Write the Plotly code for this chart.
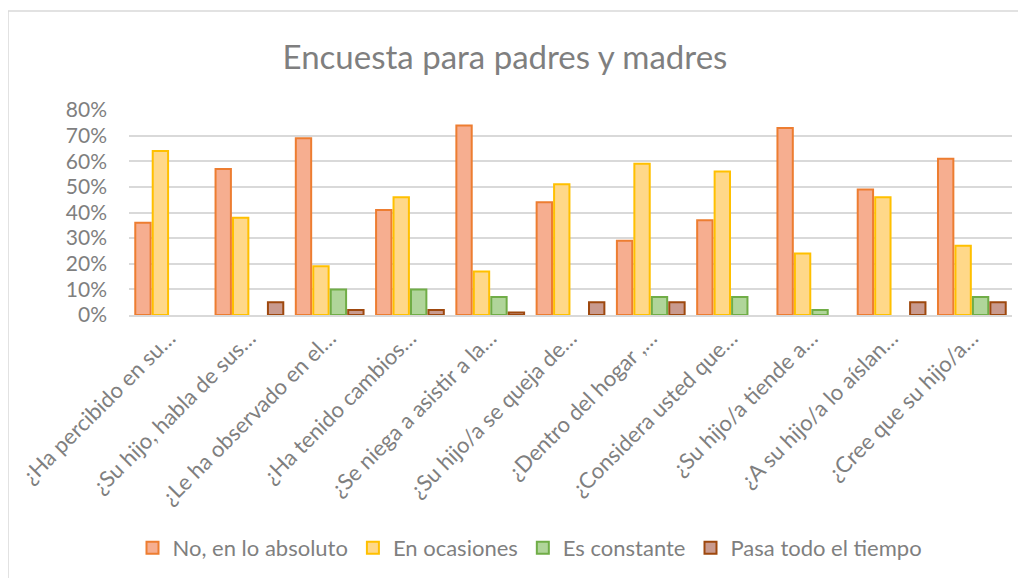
import plotly.graph_objects as go

categories = [
    "¿Ha percibido en su…",
    "¿Su hijo, habla de sus…",
    "¿Le ha observado en el…",
    "¿Ha tenido cambios…",
    "¿Se niega a asistir a la…",
    "¿Su hijo/a se queja de…",
    "¿Dentro del hogar ,…",
    "¿Considera usted que…",
    "¿Su hijo/a tiende a…",
    "¿A su hijo/a lo aíslan…",
    "¿Cree que su hijo/a…",
]
no_en_absoluto = [0.36, 0.57, 0.69, 0.41, 0.74, 0.44, 0.29, 0.37, 0.73, 0.49, 0.61]
en_ocasiones = [0.64, 0.38, 0.19, 0.46, 0.17, 0.51, 0.59, 0.56, 0.24, 0.46, 0.27]
es_constante = [0.00, 0.00, 0.10, 0.10, 0.07, 0.00, 0.07, 0.07, 0.02, 0.00, 0.07]
pasa_todo = [0.00, 0.05, 0.02, 0.02, 0.01, 0.05, 0.05, 0.00, 0.00, 0.05, 0.05]

series = [
    ("No, en lo absoluto", no_en_absoluto, "#F6AE90", "#ED7D31"),
    ("En ocasiones", en_ocasiones, "#FFD889", "#FFC000"),
    ("Es constante", es_constante, "#B0D59A", "#70AD47"),
    ("Pasa todo el tiempo", pasa_todo, "#C99A8E", "#9E480E"),
]

FONT = "Lato"
GRAY = "#7F7F7F"

# page body has an 8px default margin; layout numbers below are figure coordinates
L, R, T, B = 121, 22, 102, 271
PW = 1026 - L - R
PH = 578 - T - B

fig = go.Figure()
for name, vals, fill, edge in series:
    fig.add_trace(go.Bar(
        name=name, x=categories,
        y=[v if v > 0 else None for v in vals],  # zero values draw no bar
        marker=dict(color=fill, line=dict(color=edge, width=2)),
    ))

fig.update_layout(
    width=1026, height=578,
    margin=dict(l=L, r=R, t=T, b=B, autoexpand=False),
    paper_bgcolor="white", plot_bgcolor="white",
    barmode="group", bargap=0.13, bargroupgap=0.12,
    title=dict(text="Encuesta para padres y madres", x=497 / 1026, xref="container",
               xanchor="center", y=1 - 49 / 578, yref="container", yanchor="middle",
               font=dict(family=FONT, size=33, color=GRAY)),
    font=dict(family=FONT, color=GRAY),
    legend=dict(orientation="h", x=(522 - L) / PW, xanchor="center",
                y=(T + PH - 540) / PH, yanchor="middle",
                font=dict(family=FONT, size=22, color=GRAY), traceorder="normal",
                itemwidth=30),
    showlegend=True,
)
fig.update_yaxes(range=[0, 0.8], dtick=0.1, tickformat=".0%", automargin=False,
                 showgrid=True, gridcolor="#D9D9D9", gridwidth=1.5,
                 zeroline=False, showline=False,
                 tickfont=dict(family=FONT, size=21, color=GRAY), ticks="",
                 ticklabelstandoff=21)
fig.update_xaxes(tickangle=-45, tickfont=dict(family=FONT, size=22, color=GRAY),
                 automargin=False,
                 showline=True, linecolor="#D9D9D9", linewidth=1.5, ticks="",
                 showgrid=False)

fig.add_shape(type="rect", xref="paper", yref="paper",
              x0=(0 - L) / PW, x1=(1040 - L) / PW,
              y0=(T + PH - 600) / PH, y1=(T + PH - 3) / PH,
              line=dict(color="#D9D9D9", width=1.5), fillcolor="rgba(0,0,0,0)",
              layer="below")

fig.write_html("out.html")
